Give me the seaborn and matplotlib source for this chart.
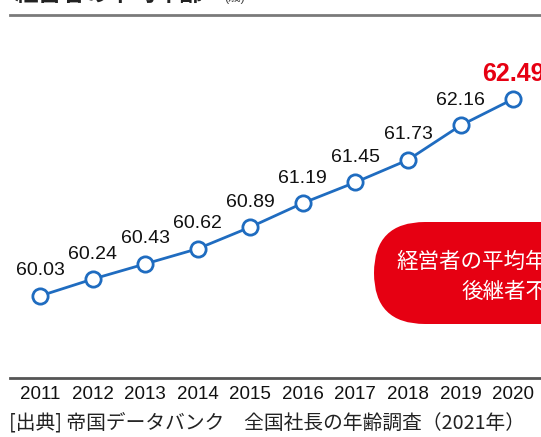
#!/usr/bin/env python3
import matplotlib
matplotlib.use("Agg")
import matplotlib.pyplot as plt
from matplotlib.patches import FancyBboxPatch
import pandas as pd
import seaborn as sns

# Dati: età media dei titolari d'impresa
years = [2011, 2012, 2013, 2014, 2015, 2016, 2017, 2018, 2019, 2020]
ages = [60.03, 60.24, 60.43, 60.62, 60.89, 61.19, 61.45, 61.73, 62.16, 62.49]
title_text = "経営者の平均年齢"
unit_text = "(歳)"
box_lines = ["経営者の平均年齢が上昇", "後継者不足"]
source_text = "[出典] 帝国データバンク　全国社長の年齢調査（2021年）"

df = pd.DataFrame({"year": years, "age": ages})

sns.set_style("white")
plt.rcParams["font.family"] = ["Liberation Sans", "Noto Sans CJK JP", "DejaVu Sans"]

BLUE = "#1f6cc0"
RED = "#e60012"
W, H = 541, 437

fig = plt.figure(figsize=(W / 100, H / 100), dpi=100)
# asse: da x=10px a 541px, da y=15px a 378px (dall'alto)
ax = fig.add_axes([10 / W, 1 - 378 / H, 531 / W, 363 / H])

sns.lineplot(data=df, x="year", y="age", ax=ax, color=BLUE, linewidth=2,
             marker="o", markersize=11, markerfacecolor="white",
             markeredgecolor=BLUE, markeredgewidth=2)

ax.set_xlim(2010.43, 2020.53)
ax.set_ylim(59.005, 63.54)
ax.set_xticks(years)
ax.set_xticklabels([str(y) for y in years], fontsize=13.5, color="#111111")
ax.tick_params(axis="x", length=0, pad=6)
ax.set_yticks([])
ax.set_xlabel("")
ax.set_ylabel("")
for side in ["left", "right"]:
    ax.spines[side].set_visible(False)
ax.spines["top"].set_color("#7a7a7a")
ax.spines["top"].set_linewidth(2)
ax.spines["bottom"].set_color("#555555")
ax.spines["bottom"].set_linewidth(2)

# Etichette valori
for i, (x, v) in enumerate(zip(years, ages)):
    last = i == len(years) - 1
    ax.annotate(f"{v:.2f}", (x, v), xytext=(0, 18),
                textcoords="offset points", ha="center", va="center",
                fontsize=18 if last else 14,
                color=RED if last else "#111111",
                fontweight="bold" if last else "normal",
                annotation_clip=False)

# Titolo (tagliato in alto come nell'originale)
fig.text(15 / W, 1 - 6 / H, title_text, fontsize=17, fontweight="bold",
         color="#222222", va="bottom", ha="left")
fig.text(224 / W, 1 - 4 / H, unit_text, fontsize=9, color="#444444",
         va="bottom", ha="left")

# Riquadro rosso
box = FancyBboxPatch((3.74, (H - 324) / 100), 3.0, 1.02,
                     boxstyle="round,pad=0,rounding_size=0.51",
                     transform=fig.dpi_scale_trans, facecolor=RED,
                     edgecolor="none", clip_on=False)
fig.patches.append(box)
fig.text(515 / W, 1 - 262 / H, box_lines[0], fontsize=15.5, color="white",
         ha="center", va="center", family=["Noto Sans CJK JP"])
fig.text(515 / W, 1 - 292 / H, box_lines[1], fontsize=15.5, color="white",
         ha="center", va="center", family=["Noto Sans CJK JP"])

# Fonte
fig.text(9 / W, 1 - 423 / H, source_text, fontsize=14.2, color="#222222",
         ha="left", va="center", family=["Noto Sans CJK JP", "DejaVu Sans"])

fig.savefig("out.png", dpi=100)
